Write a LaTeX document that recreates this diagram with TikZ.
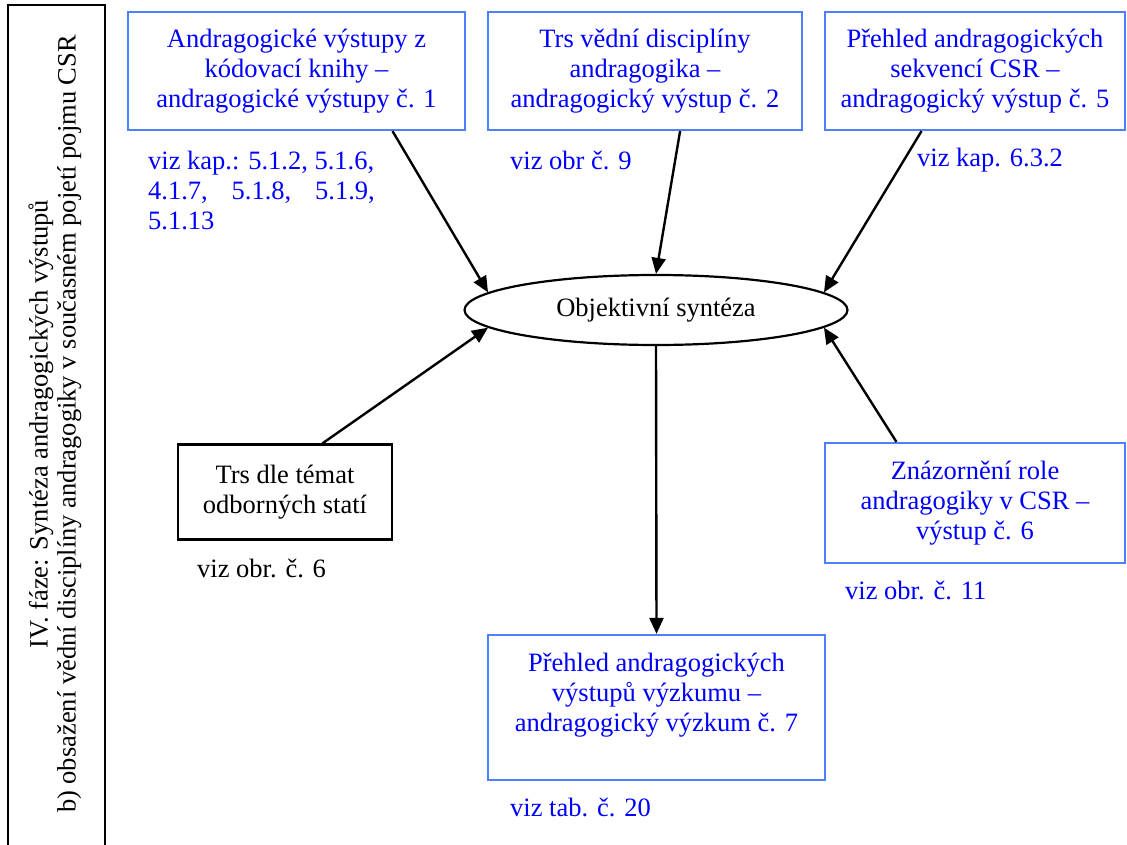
\documentclass[tikz,border=0pt]{standalone}
\usepackage{fontspec}
\setmainfont{Liberation Serif}
\usetikzlibrary{arrows.meta,positioning,calc,shapes.geometric}
\definecolor{textblue}{RGB}{0,0,255}
\definecolor{lineblue}{RGB}{77,128,255}
\begin{document}
\begin{tikzpicture}[x=1pt,y=-1pt,font=\fontsize{26.5}{30}\selectfont,
  outbox/.style={draw=lineblue,line width=2.2pt,text=textblue,align=center,inner sep=0pt},
  blackbox/.style={draw,line width=2.2pt,align=center,inner sep=0pt},
  note/.style={text=textblue,align=left,inner sep=0pt},
  arr/.style={-{Triangle[length=16pt,width=14pt]},line width=2.4pt}]
\useasboundingbox (0,0) rectangle (1127,845);
\draw[line width=2.2pt] (8,845)--(8,5)--(105,5)--(105,845);
\node[rotate=90,align=center,inner sep=0pt,font=\fontsize{26.5}{28}\selectfont] (faze) at (55,424) {IV. fáze: Syntéza andragogických výstupů\\b) obsažení vědní disciplíny andragogiky v současném pojetí pojmu CSR};
\node[outbox,minimum width=337pt,minimum height=118pt] (b1) at (296.5,71) {Andragogické výstupy z\\kódovací knihy –\\andragogické výstupy č. 1};
\node[outbox,minimum width=314pt,minimum height=118pt] (b2) at (645,71) {Trs vědní disciplíny\\andragogika –\\andragogický výstup č. 2};
\node[outbox,minimum width=300pt,minimum height=118pt] (b3) at (975,71) {Přehled andragogických\\sekvencí CSR –\\andragogický výstup č. 5};
\node[ellipse,draw,line width=2.2pt,minimum width=383pt,minimum height=70pt,inner sep=0pt] (ell) at (656,310) {Objektivní syntéza};
\node[blackbox,minimum width=214pt,minimum height=95pt] (trs) at (285,492) {Trs dle témat\\odborných statí};
\node[outbox,minimum width=300pt,minimum height=120pt] (zn) at (975,503) {Znázornění role\\andragogiky v CSR –\\výstup č. 6};
\node[outbox,minimum width=337pt,minimum height=145pt] (bot) at (656.5,707.5) {Přehled andragogických\\výstupů výzkumu –\\andragogický výzkum č. 7\\\mbox{}};
\node[note,anchor=north west] (n1) at (148,151) {viz kap.: 5.1.2, 5.1.6,\\4.1.7,\hspace{.9em}5.1.8,\hspace{.9em}5.1.9,\\5.1.13};
\node[note,anchor=west] (n2) at (510,160) {viz obr č. 9};
\node[note,anchor=west] (n3) at (917,160) {viz kap. 6.3.2};
\node[anchor=west,inner sep=0pt] (n6) at (197,568) {viz obr. č. 6};
\node[note,anchor=west] (n11) at (845,590) {viz obr. č. 11};
\node[note,anchor=west] (n20) at (510,807) {viz tab. č. 20};
\draw[arr] ($(b1.south west)!.783!(b1.south east)$) -- (ell.174);
\draw[arr] ($(b2.south west)!.611!(b2.south east)$) -- (ell.north);
\draw[arr] ($(b3.south west)!.323!(b3.south east)$) -- (ell.6);
\draw[arr] ($(trs.north west)!.673!(trs.north east)$) -- (ell.186);
\draw[arr] ($(zn.north west)!.24!(zn.north east)$) -- (ell.354);
\draw[arr] (ell.south) -- (bot.north);
\end{tikzpicture}
\end{document}
